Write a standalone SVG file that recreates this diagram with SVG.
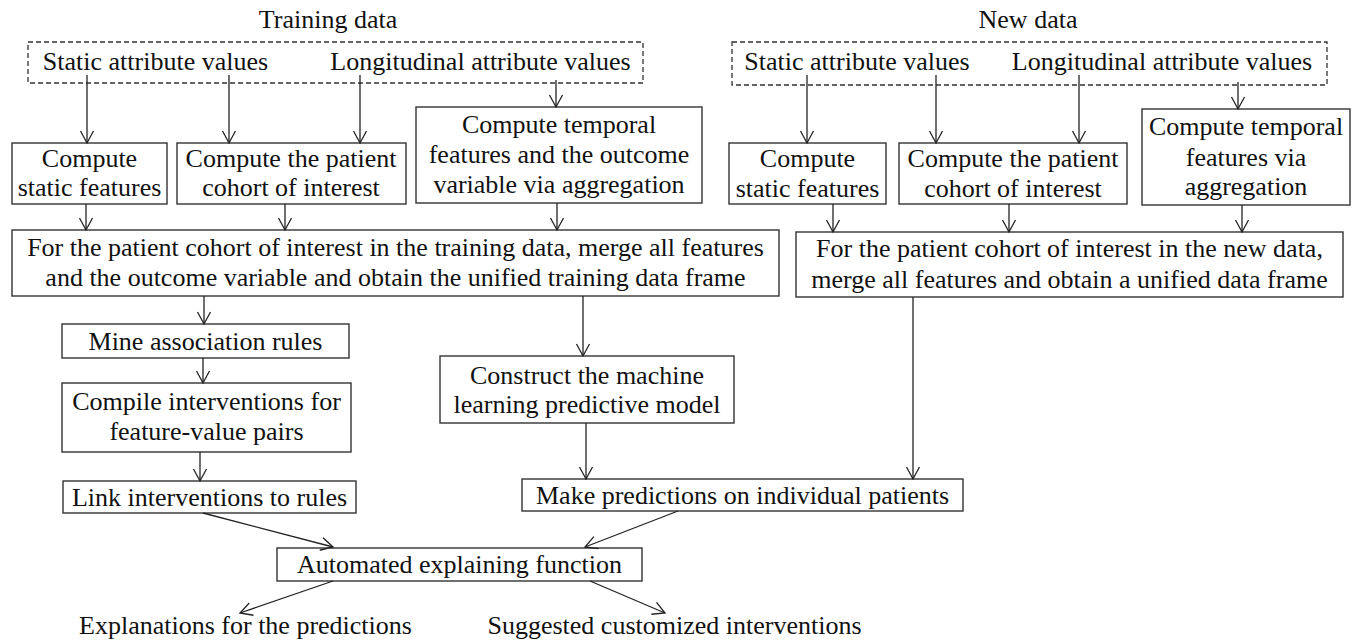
<svg xmlns="http://www.w3.org/2000/svg" width="1357" height="643" viewBox="0 0 1357 643">
<style>
text{font-family:"Liberation Serif","Times New Roman",serif;font-size:26px;fill:#111;text-anchor:middle}
.box{fill:#fff;stroke:#333;stroke-width:1.4}
.dash{fill:none;stroke:#333;stroke-width:1.3;stroke-dasharray:5,3}
.c{fill:none;stroke:#222;stroke-width:1.3;marker-end:url(#arr)}
</style>
<defs>
<marker id="arr" markerUnits="userSpaceOnUse" markerWidth="16" markerHeight="18" viewBox="-14 -9 16 18" refX="0" refY="0" orient="auto">
<path d="M-12,-6.5 L0,0 L-12,6.5" fill="none" stroke="#222" stroke-width="1.3"/>
</marker>
</defs>
<rect width="1357" height="643" fill="#fff"/>
<g id="training-data">
<text x="328" y="28">Training data</text>
<rect class="dash" x="28" y="42" width="615" height="41"/>
<text x="155.5" y="70">Static attribute values</text>
<text x="480.5" y="70">Longitudinal attribute values</text>
</g>
<g id="new-data">
<text x="1028" y="28">New data</text>
<rect class="dash" x="732" y="42" width="595" height="43"/>
<text x="857" y="70">Static attribute values</text>
<text x="1162" y="70">Longitudinal attribute values</text>
</g>
<g id="train-static">
<rect class="box" x="12" y="143" width="155" height="61"/>
<text x="89.5" y="167">Compute</text>
<text x="89.5" y="196">static features</text>
</g>
<g id="train-cohort">
<rect class="box" x="177" y="143" width="229" height="61"/>
<text x="291" y="167">Compute the patient</text>
<text x="291" y="196">cohort of interest</text>
</g>
<g id="train-temporal">
<rect class="box" x="416" y="107" width="286" height="96"/>
<text x="559" y="133">Compute temporal</text>
<text x="559" y="163">features and the outcome</text>
<text x="559" y="193">variable via aggregation</text>
</g>
<g id="new-static">
<rect class="box" x="729" y="143" width="157" height="61"/>
<text x="807.5" y="167">Compute</text>
<text x="807.5" y="197">static features</text>
</g>
<g id="new-cohort">
<rect class="box" x="899" y="143" width="228" height="61"/>
<text x="1013" y="167">Compute the patient</text>
<text x="1013" y="197">cohort of interest</text>
</g>
<g id="new-temporal">
<rect class="box" x="1142" y="109" width="208" height="96"/>
<text x="1246" y="135">Compute temporal</text>
<text x="1246" y="166">features via</text>
<text x="1246" y="195">aggregation</text>
</g>
<g id="train-merge">
<rect class="box" x="12" y="230" width="767" height="66"/>
<text x="395.5" y="256">For the patient cohort of interest in the training data, merge all features</text>
<text x="395.5" y="286">and the outcome variable and obtain the unified training data frame</text>
</g>
<g id="new-merge">
<rect class="box" x="796" y="232" width="547" height="65"/>
<text x="1069.5" y="257">For the patient cohort of interest in the new data,</text>
<text x="1069.5" y="288">merge all features and obtain a unified data frame</text>
</g>
<g id="mine-rules">
<rect class="box" x="62" y="324" width="287" height="34"/>
<text x="205.5" y="350">Mine association rules</text>
</g>
<g id="compile-interventions">
<rect class="box" x="62" y="383" width="289" height="69"/>
<text x="206.5" y="410">Compile interventions for</text>
<text x="206.5" y="440">feature-value pairs</text>
</g>
<g id="link-interventions">
<rect class="box" x="63" y="481" width="293" height="32"/>
<text x="209.5" y="506">Link interventions to rules</text>
</g>
<g id="construct-model">
<rect class="box" x="440" y="356" width="294" height="67"/>
<text x="587" y="384">Construct the machine</text>
<text x="587" y="413">learning predictive model</text>
</g>
<g id="make-predictions">
<rect class="box" x="522" y="479" width="441" height="32"/>
<text x="742.5" y="504">Make predictions on individual patients</text>
</g>
<g id="explaining-function">
<rect class="box" x="277" y="548" width="365" height="33"/>
<text x="459.5" y="573">Automated explaining function</text>
</g>
<g id="explanations">
<text x="245.5" y="634">Explanations for the predictions</text>
</g>
<g id="suggested-interventions">
<text x="674.5" y="634">Suggested customized interventions</text>
</g>
<g id="connectors">
<path class="c" d="M87,75 V143"/>
<path class="c" d="M229,75 V143"/>
<path class="c" d="M360,75 V143"/>
<path class="c" d="M556,80 V107"/>
<path class="c" d="M807,75 V143"/>
<path class="c" d="M936,75 V143"/>
<path class="c" d="M1079,75 V143"/>
<path class="c" d="M1238,82 V109"/>
<path class="c" d="M86,204 V230"/>
<path class="c" d="M285,204 V230"/>
<path class="c" d="M557,203 V230"/>
<path class="c" d="M833,204 V232"/>
<path class="c" d="M1009,204 V232"/>
<path class="c" d="M1242,205 V232"/>
<path class="c" d="M204,296 V324"/>
<path class="c" d="M203,358 V383"/>
<path class="c" d="M200,452 V481"/>
<path class="c" d="M583,296 V356"/>
<path class="c" d="M586,423 V479"/>
<path class="c" d="M913,297 V479"/>
<path class="c" d="M203,513 L333,547"/>
<path class="c" d="M678,511 L585,547"/>
<path class="c" d="M333,581 L240,613"/>
<path class="c" d="M590,581 L665,613"/>
</g>
</svg>
